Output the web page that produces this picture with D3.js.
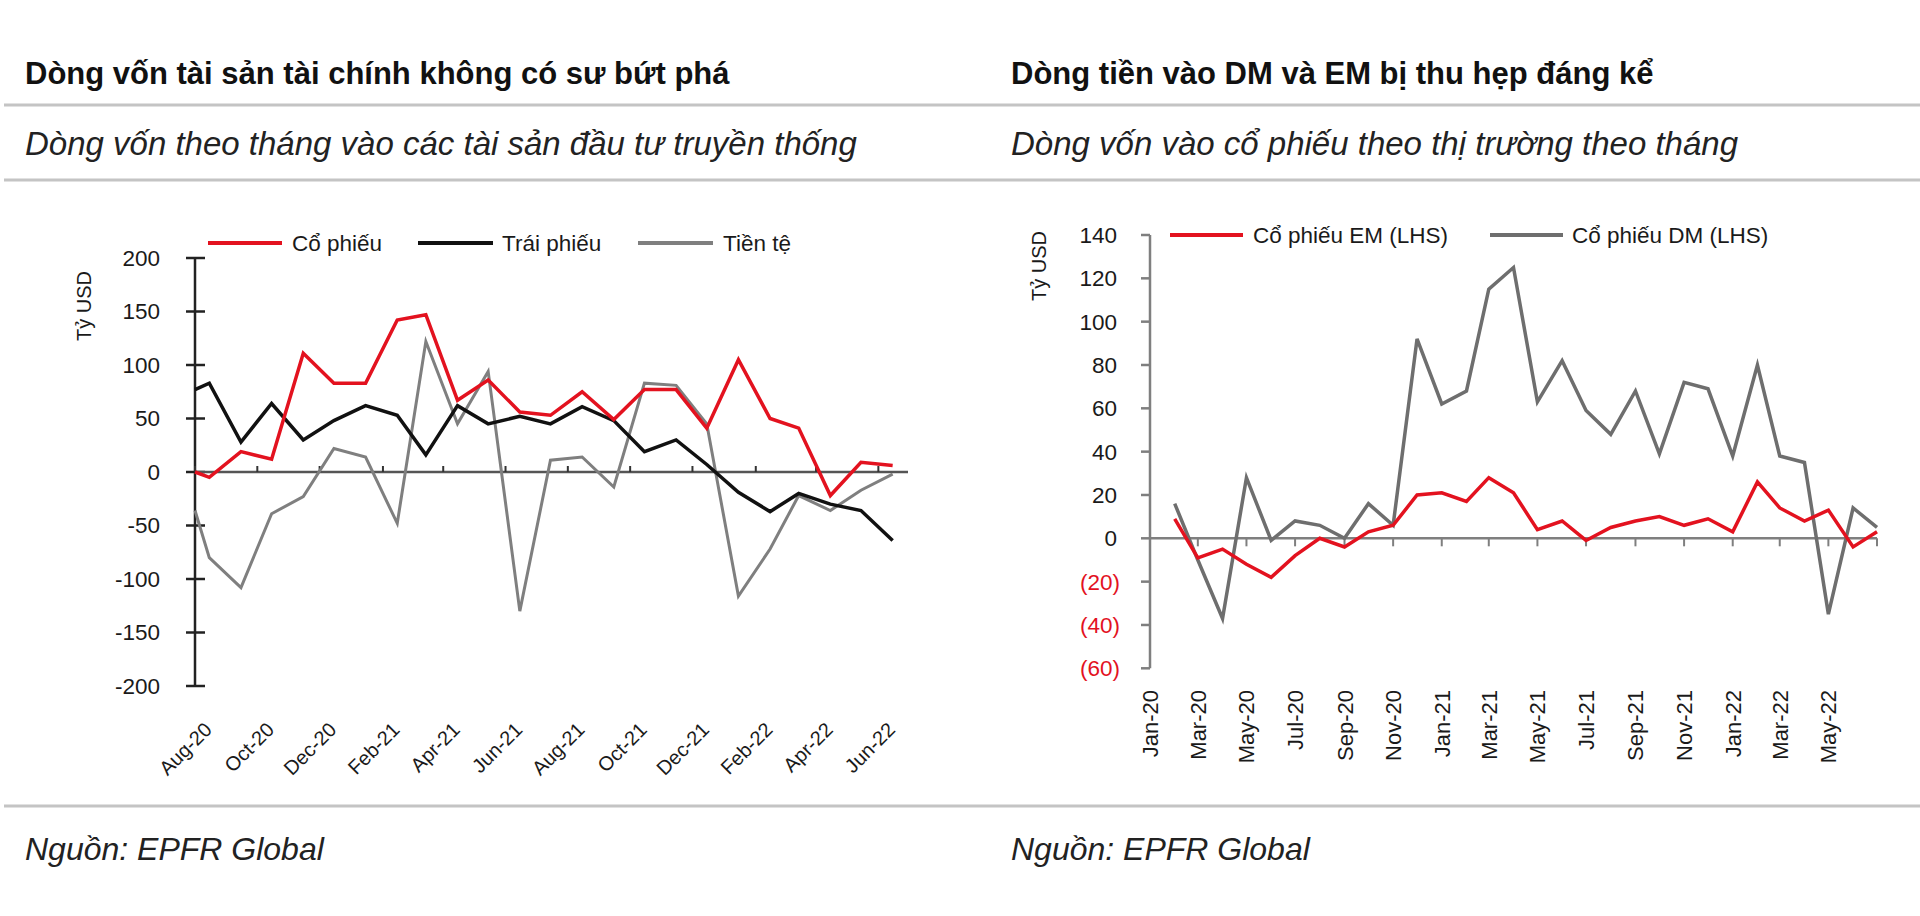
<!DOCTYPE html>
<html><head><meta charset="utf-8">
<script src="https://cdn.jsdelivr.net/npm/d3@7"></script>
<style>
body{margin:0;background:#fff;}
svg{display:block;font-family:"Liberation Sans",Arial,Helvetica,sans-serif;}
</style>
</head><body><svg id="c" width="1920" height="916"></svg>
<script>
// ---------------- Left chart data ----------------
const leftTitle = "Dòng vốn tài sản tài chính không có sư bứt phá";
const leftSubtitle = "Dòng vốn theo tháng vào các tài sản đầu tư truyền thống";
const leftTickLabels = ["Aug-20","Oct-20","Dec-20","Feb-21","Apr-21","Jun-21","Aug-21","Oct-21","Dec-21","Feb-22","Apr-22","Jun-22"];
const leftTickDates = ["2020-08-01","2020-10-01","2020-12-01","2021-02-01","2021-04-01","2021-06-01","2021-08-01","2021-10-01","2021-12-01","2022-02-01","2022-04-01","2022-06-01"];
// first value sits at the start of the axis, the rest are monthly (mid-month)
const leftDates = ["2020-08-01","2020-08-15","2020-09-15","2020-10-15","2020-11-15","2020-12-15","2021-01-15","2021-02-15","2021-03-15","2021-04-15","2021-05-15","2021-06-15","2021-07-15","2021-08-15","2021-09-15","2021-10-15","2021-11-15","2021-12-15","2022-01-15","2022-02-15","2022-03-15","2022-04-15","2022-05-15","2022-06-15"];
const equity   = [0, -5, 19, 12, 111, 83, 83, 142, 147, 67, 86, 56, 53, 75, 49, 77, 77, 41, 105, 50, 41, -22, 9, 6];
const bonds    = [77, 83, 28, 64, 30, 48, 62, 53, 16, 62, 45, 52, 45, 61, 48, 19, 30, 7, -19, -37, -20, -30, -36, -64];
const currency = [-36, -80, -108, -39, -23, 22, 14, -48, 122, 45, 94, -130, 11, 14, -14, 83, 81, 45, -116, -72, -22, -36, -17, -2];
const leftSeriesNames = ["Cổ phiếu", "Trái phiếu", "Tiền tệ"];
const leftYTicks = [-200, -150, -100, -50, 0, 50, 100, 150, 200];

// ---------------- Right chart data ----------------
const rightTitle = "Dòng tiền vào DM và EM bị thu hẹp đáng kể";
const rightSubtitle = "Dòng vốn vào cổ phiếu theo thị trường theo tháng";
const rightMonths = ["2020-01","2020-02","2020-03","2020-04","2020-05","2020-06","2020-07","2020-08","2020-09","2020-10","2020-11","2020-12","2021-01","2021-02","2021-03","2021-04","2021-05","2021-06","2021-07","2021-08","2021-09","2021-10","2021-11","2021-12","2022-01","2022-02","2022-03","2022-04","2022-05","2022-06"];
const emEquity = [9, -9, -5, -12, -18, -8, 0, -4, 3, 6, 20, 21, 17, 28, 21, 4, 8, -1, 5, 8, 10, 6, 9, 3, 26, 14, 8, 13, -4, 3];
const dmEquity = [16, -10, -37, 28, -1, 8, 6, 0, 16, 6, 92, 62, 68, 115, 125, 63, 82, 59, 48, 68, 39, 72, 69, 38, 80, 38, 35, -35, 14, 5];
const rightSeriesNames = ["Cổ phiếu EM (LHS)", "Cổ phiếu DM (LHS)"];
const rightTickLabels = ["Jan-20","Mar-20","May-20","Jul-20","Sep-20","Nov-20","Jan-21","Mar-21","May-21","Jul-21","Sep-21","Nov-21","Jan-22","Mar-22","May-22"];
const rightYTicks = [-60, -40, -20, 0, 20, 40, 60, 80, 100, 120, 140];

const source = "Nguồn: EPFR Global";

// ---------------- styles ----------------
const RED = "#e3121f", BLACK = "#111111", GRAY = "#7f7f7f", TXT = "#1a1a1a";

const svg = d3.select("#c");
const parse = d3.timeParse("%Y-%m-%d");
const parseM = d3.timeParse("%Y-%m");

// header / footer rules
[105, 180, 806].forEach(y => svg.append("line").attr("x1", 4).attr("x2", 1920).attr("y1", y).attr("y2", y)
  .attr("stroke", "#c4c4c4").attr("stroke-width", 3));

function header(x, title, sub) {
  svg.append("text").attr("x", x).attr("y", 84).attr("font-size", 31).attr("font-weight", "bold")
    .attr("fill", "#111").text(title);
  svg.append("text").attr("x", x).attr("y", 155).attr("font-size", 33).attr("font-style", "italic")
    .attr("fill", "#222").text(sub);
  svg.append("text").attr("x", x).attr("y", 860).attr("font-size", 32).attr("font-style", "italic")
    .attr("fill", "#222").text(source);
}
header(25, leftTitle, leftSubtitle);
header(1011, rightTitle, rightSubtitle);

// ================= LEFT CHART =================
{
  const g = svg.append("g");
  const x = d3.scaleTime().domain([parse("2020-08-01"), parse("2022-07-01")]).range([195, 909]);
  const y = d3.scaleLinear().domain([-200, 200]).range([686, 258]);

  // y axis
  g.append("line").attr("x1", x.range()[0]).attr("x2", x.range()[0]).attr("y1", y(-200)).attr("y2", y(200))
    .attr("stroke", "#222").attr("stroke-width", 2.5);
  g.selectAll(".ytl").data(leftYTicks).join("line")
    .attr("x1", x.range()[0] - 9).attr("x2", x.range()[0] + 10)
    .attr("y1", d => y(d)).attr("y2", d => y(d)).attr("stroke", "#222").attr("stroke-width", 2.5);
  g.selectAll(".ylab").data(leftYTicks).join("text")
    .attr("x", 160).attr("y", d => y(d)).attr("dy", "0.35em").attr("text-anchor", "end")
    .attr("font-size", 22.5).attr("fill", TXT).text(d => d);
  g.append("text").attr("transform", `translate(91,${306}) rotate(-90)`).attr("text-anchor", "middle")
    .attr("font-size", 20).attr("fill", TXT).text("Tỷ USD");

  // zero line + ticks
  g.append("line").attr("x1", x.range()[0]).attr("x2", x.range()[1] - 1).attr("y1", y(0)).attr("y2", y(0))
    .attr("stroke", "#555").attr("stroke-width", 2.5);
  const td = leftTickDates.map(parse);
  g.selectAll(".xt").data(td).join("line")
    .attr("x1", d => x(d)).attr("x2", d => x(d)).attr("y1", y(0)).attr("y2", y(0) - 6)
    .attr("stroke", "#333").attr("stroke-width", 2);
  g.selectAll(".xl").data(leftTickLabels).join("text")
    .attr("transform", (d, i) => `translate(${x(td[i]) + 18},731) rotate(-45)`)
    .attr("text-anchor", "end").attr("font-size", 20).attr("fill", TXT).text(d => d);

  const dates = leftDates.map(parse);
  const line = d3.line().x((d, i) => x(dates[i])).y(d => y(d));
  [[currency, GRAY, 3], [bonds, BLACK, 3.5], [equity, RED, 3.5]].forEach(([vals, col, w]) => {
    g.append("path").attr("d", line(vals)).attr("fill", "none").attr("stroke", col)
      .attr("stroke-width", w).attr("stroke-linejoin", "miter");
  });

  // legend
  const leg = [[208, 282, 292, RED], [418, 493, 502, BLACK], [638, 713, 723, GRAY]];
  leg.forEach(([a, b, t, col], i) => {
    g.append("line").attr("x1", a).attr("x2", b).attr("y1", 243).attr("y2", 243).attr("stroke", col).attr("stroke-width", 4);
    g.append("text").attr("x", t).attr("y", 243).attr("dy", "0.35em").attr("font-size", 22.5).attr("fill", TXT).text(leftSeriesNames[i]);
  });
}

// ================= RIGHT CHART =================
{
  const g = svg.append("g");
  const x = d3.scaleTime().domain([parse("2020-01-01"), parse("2022-07-01")]).range([1150, 1877]);
  const y = d3.scaleLinear().domain([-60, 140]).range([668.3, 235]);

  g.append("line").attr("x1", 1150).attr("x2", 1150).attr("y1", y(-60)).attr("y2", y(140))
    .attr("stroke", GRAY).attr("stroke-width", 2.5);
  g.selectAll(".ytl").data(rightYTicks).join("line")
    .attr("x1", 1141).attr("x2", 1150).attr("y1", d => y(d)).attr("y2", d => y(d))
    .attr("stroke", GRAY).attr("stroke-width", 2.5);
  g.selectAll(".ylab").data(rightYTicks).join("text")
    .attr("x", d => d < 0 ? 1120 : 1117).attr("y", d => y(d)).attr("dy", "0.35em").attr("text-anchor", "end")
    .attr("font-size", 22.5).attr("fill", d => d < 0 ? RED : TXT)
    .text(d => d < 0 ? `(${-d})` : d);
  g.append("text").attr("transform", `translate(1046,266) rotate(-90)`).attr("text-anchor", "middle")
    .attr("font-size", 20).attr("fill", TXT).text("Tỷ USD");

  g.append("line").attr("x1", 1150).attr("x2", 1877).attr("y1", y(0)).attr("y2", y(0))
    .attr("stroke", GRAY).attr("stroke-width", 2.5);
  const tickDates = d3.timeMonth.every(2).range(parse("2020-01-01"), parse("2022-07-02"));
  g.selectAll(".xt").data(tickDates).join("line")
    .attr("x1", d => x(d)).attr("x2", d => x(d)).attr("y1", y(0)).attr("y2", y(0) + 8)
    .attr("stroke", GRAY).attr("stroke-width", 2);
  g.selectAll(".xl").data(rightTickLabels).join("text")
    .attr("transform", (d, i) => `translate(${x(tickDates[i]) + 8},690) rotate(-90)`)
    .attr("text-anchor", "end").attr("font-size", 22).attr("fill", TXT).text(d => d);

  // monthly values plotted at month end
  const dates = rightMonths.map(m => d3.timeMonth.offset(parseM(m), 1));
  const line = d3.line().x((d, i) => x(dates[i])).y(d => y(d));
  g.append("path").attr("d", line(dmEquity)).attr("fill", "none").attr("stroke", "#6e6e6e").attr("stroke-width", 3.5);
  g.append("path").attr("d", line(emEquity)).attr("fill", "none").attr("stroke", RED).attr("stroke-width", 3.5);

  const leg = [[1170, 1243, 1253, RED], [1490, 1563, 1572, "#6e6e6e"]];
  leg.forEach(([a, b, t, col], i) => {
    g.append("line").attr("x1", a).attr("x2", b).attr("y1", 235).attr("y2", 235).attr("stroke", col).attr("stroke-width", 4);
    g.append("text").attr("x", t).attr("y", 235).attr("dy", "0.35em").attr("font-size", 22.5).attr("fill", TXT).text(rightSeriesNames[i]);
  });
}
</script></body></html>
